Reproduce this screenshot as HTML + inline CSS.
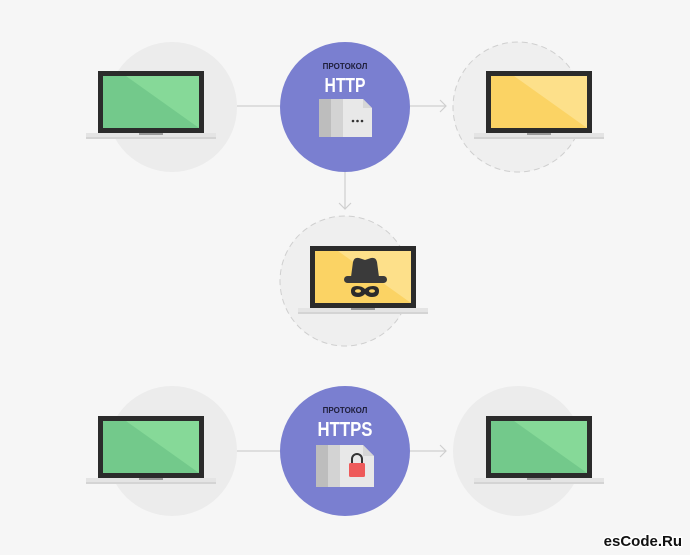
<!DOCTYPE html>
<html><head><meta charset="utf-8"><style>
html,body{margin:0;padding:0;background:#f6f6f6;}
svg{display:block;}
text{font-family:"Liberation Sans","DejaVu Sans",sans-serif;font-weight:bold;}
</style></head><body>
<svg width="690" height="555" viewBox="0 0 690 555" xmlns="http://www.w3.org/2000/svg">
<rect width="690" height="555" fill="#f6f6f6"/>
<defs>
<g id="lapG">
  <rect x="0" y="0" width="106" height="62" fill="#2b2b2b"/>
  <polygon points="5,5 101,5 101,57 5,57" fill="#73c98b"/>
  <polygon points="28,5 101,5 101,57" fill="#86d998"/>
  <rect x="-12" y="62" width="130" height="6" fill="#e4e4e4"/>
  <rect x="-12" y="66" width="130" height="2" fill="#d4d4d4"/>
  <rect x="41" y="62" width="24" height="2" fill="#9a9a9a"/>
</g>
<g id="lapY">
  <rect x="0" y="0" width="106" height="62" fill="#2b2b2b"/>
  <polygon points="5,5 101,5 101,57 5,57" fill="#fbd364"/>
  <polygon points="28,5 101,5 101,57" fill="#fde08a"/>
  <rect x="-12" y="62" width="130" height="6" fill="#e4e4e4"/>
  <rect x="-12" y="66" width="130" height="2" fill="#d4d4d4"/>
  <rect x="41" y="62" width="24" height="2" fill="#9a9a9a"/>
</g>
</defs>

<g stroke="#cfcfcf" stroke-width="1.2" fill="none">
<line x1="237" y1="106" x2="280" y2="106"/>
<line x1="410" y1="106" x2="446" y2="106"/>
<polyline points="440,100 446,106 440,112"/>
<line x1="345" y1="172" x2="345" y2="209"/>
<polyline points="339,203 345,209 351,203"/>
<line x1="237" y1="451" x2="280" y2="451"/>
<line x1="410" y1="451" x2="446" y2="451"/>
<polyline points="440,445 446,451 440,457"/>
</g>

<circle cx="172" cy="107" r="65" fill="#ececec"/>
<use href="#lapG" x="98" y="71"/>
<circle cx="345" cy="107" r="65" fill="#7a7fd0"/>
<text x="345" y="69" font-size="8" fill="#1e1e3a" text-anchor="middle">ПРОТОКОЛ</text>
<text x="345" y="92" font-size="20" fill="#ffffff" text-anchor="middle" textLength="41" lengthAdjust="spacingAndGlyphs">HTTP</text>
<rect x="319" y="99" width="12" height="38" fill="#bdbdbd"/>
<rect x="331" y="99" width="12" height="38" fill="#d3d3d3"/>
<polygon points="343,99 363,99 372,108 372,137 343,137" fill="#e8e8e8"/>
<polygon points="363,99 372,108 363,108" fill="#d6d6d6"/>
<circle cx="353" cy="121" r="1.3" fill="#333"/><circle cx="357.5" cy="121" r="1.3" fill="#333"/><circle cx="362" cy="121" r="1.3" fill="#333"/>
<circle cx="518" cy="107" r="65" fill="#efefef" stroke="#cfcfcf" stroke-width="1" stroke-dasharray="6 4"/>
<use href="#lapY" x="486" y="71"/>

<circle cx="345" cy="281" r="65" fill="#efefef" stroke="#cfcfcf" stroke-width="1" stroke-dasharray="6 4"/>
<use href="#lapY" x="310" y="246"/>
<path d="M351,277 L353,262 Q354,257 359,258 L365,260 L371,258 Q376,257 377,262 L379,277 Z" fill="#3a3a3a"/>
<rect x="344" y="276" width="43" height="7" rx="3.5" fill="#3a3a3a"/>
<path d="M351,291 Q351,286 357,286 Q362,286 365,289 Q368,286 373,286 Q379,286 379,291 Q379,297 372,297 Q368,297 365,294 Q362,297 358,297 Q351,297 351,291 Z" fill="#2b2b2b"/>
<ellipse cx="358" cy="291" rx="3" ry="1.8" fill="#fbd364"/>
<ellipse cx="372" cy="291" rx="3" ry="1.8" fill="#fbd364"/>

<circle cx="172" cy="451" r="65" fill="#ececec"/>
<use href="#lapG" x="98" y="416"/>
<circle cx="345" cy="451" r="65" fill="#7a7fd0"/>
<text x="345" y="413" font-size="8" fill="#1e1e3a" text-anchor="middle">ПРОТОКОЛ</text>
<text x="345" y="436" font-size="20" fill="#ffffff" text-anchor="middle" textLength="55" lengthAdjust="spacingAndGlyphs">HTTPS</text>
<rect x="316" y="445" width="12" height="42" fill="#bdbdbd"/>
<rect x="328" y="445" width="12" height="42" fill="#d3d3d3"/>
<polygon points="340,445 363,445 374,456 374,487 340,487" fill="#e8e8e8"/>
<polygon points="363,445 374,456 363,456" fill="#d6d6d6"/>
<path d="M352,463 V459 A5,5 0 0 1 362,459 V463" fill="none" stroke="#333" stroke-width="2"/>
<rect x="349" y="463" width="16" height="14" rx="1.5" fill="#ee5a5a"/>
<circle cx="518" cy="451" r="65" fill="#ececec"/>
<use href="#lapG" x="486" y="416"/>

<text x="682" y="546" font-size="15" fill="#111" stroke="#fff" stroke-width="3" paint-order="stroke" text-anchor="end">esCode.Ru</text>
</svg>
</body></html>
